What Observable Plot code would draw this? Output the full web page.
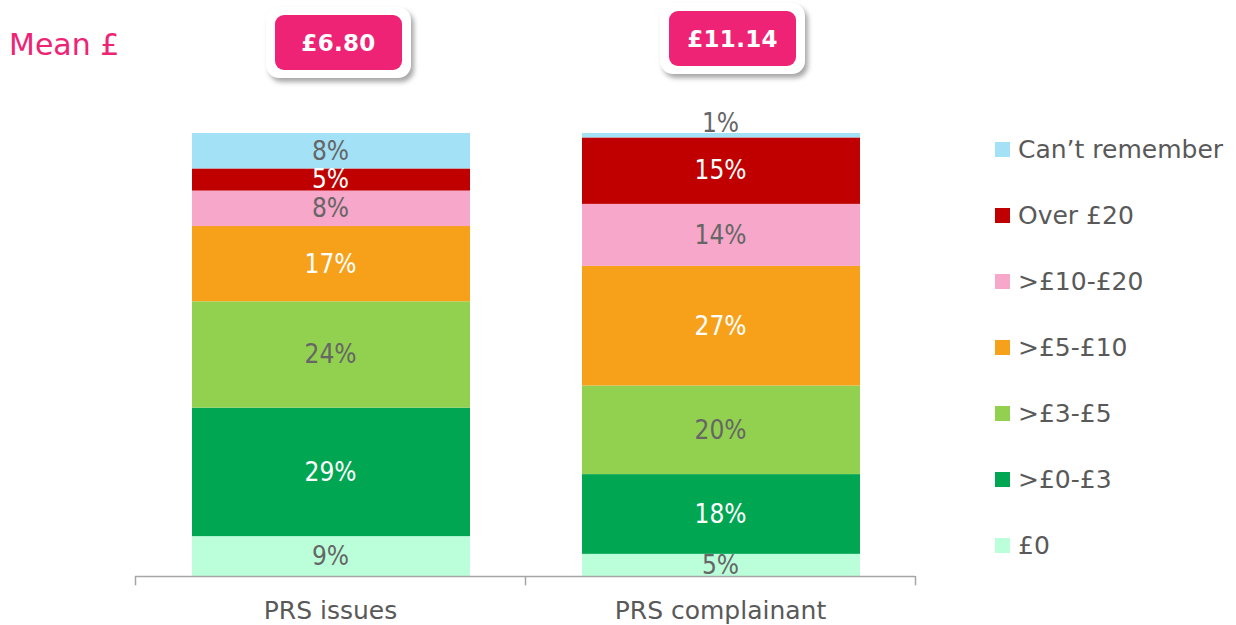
<!DOCTYPE html>
<html><head><meta charset="utf-8">
<script src="https://cdn.jsdelivr.net/npm/d3@7"></script>
<script src="https://cdn.jsdelivr.net/npm/@observablehq/plot@0.6"></script>
<style>
body{margin:0;background:#fff;font-family:"DejaVu Sans",sans-serif;}
#wrap{position:relative;width:1236px;height:625px;overflow:hidden;background:#fff}
#mean{position:absolute;left:9px;top:27px;font-size:30px;color:#EE2375;}
.box{position:absolute;width:145px;height:71px;background:#fff;border-radius:13px;box-shadow:3px 4px 5px rgba(0,0,0,0.35);}
.box .in{position:absolute;left:9px;top:8px;width:127px;height:55px;background:#EE2375;border-radius:9px;color:#fff;font-weight:bold;font-size:23px;display:flex;align-items:center;justify-content:center;letter-spacing:0.3px}
#legend{position:absolute;left:995px;top:116px;}
.li{height:66px;display:flex;align-items:center;font-size:25px;color:#595959;white-space:nowrap}
.sw{width:15px;height:15px;margin-right:8px;flex:none}
</style></head><body><div id="wrap"></div>
<script>
const categories = ["PRS issues", "PRS complainant"];
const bands = ["£0", ">£0-£3", ">£3-£5", ">£5-£10", ">£10-£20", "Over £20", "Can’t remember"];
const bandColors = ["#BBFFDA", "#00A651", "#92D050", "#F7A11B", "#F7A7C9", "#C00000", "#A2E1F6"];
const prsIssues = [9, 29, 24, 17, 8, 5, 8];
const prsComplainant = [5, 18, 20, 27, 14, 15, 1];
const means = ["£6.80", "£11.14"];
const whiteLabelBands = [">£0-£3", ">£5-£10", "Over £20"];

const series = [prsIssues, prsComplainant];
const rows = categories.flatMap((c, i) => bands.map((b, j) => ({cat: c, idx: i, band: b, value: series[i][j]})));

const font = "'DejaVu Sans Condensed','DejaVu Sans',sans-serif";
const labelText = (pred) => d => pred(d) ? d.value + "%" : "";
const isWhite = d => whiteLabelBands.includes(d.band);
const isSmall = d => d.value < 2;

const plot = Plot.plot({
  width: 1236, height: 625,
  marginTop: 133, marginBottom: 49, marginLeft: 135, marginRight: 321,
  x: {domain: [0, 2], axis: null},
  y: {domain: [0, 100], axis: null},
  color: {domain: bands, range: bandColors},
  style: {fontFamily: "'DejaVu Sans',sans-serif", overflow: "visible", background: "transparent"},
  marks: [
    Plot.rectY(rows, Plot.stackY({x1: "idx", x2: d => d.idx + 1, y: "value", fill: "band", order: bands, insetLeft: 57, insetRight: 55})),
    Plot.text(rows, Plot.stackY({x: d => d.idx + 0.5, y: "value", z: "band", order: bands, text: labelText(d => isWhite(d)), fill: "white", fontSize: 26, fontFamily: font})),
    Plot.text(rows, Plot.stackY({x: d => d.idx + 0.5, y: "value", z: "band", order: bands, text: labelText(d => !isWhite(d) && !isSmall(d)), fill: "#666666", fontSize: 26, fontFamily: font})),
    Plot.text(rows, Plot.stackY({x: d => d.idx + 0.5, y: "value", z: "band", order: bands, text: labelText(d => !isWhite(d) && isSmall(d)), fill: "#666666", fontSize: 26, fontFamily: font, dy: -12})),
    Plot.ruleY([0], {stroke: "#a6a6a6", strokeWidth: 1.5}),
    Plot.ruleX([0, 1, 2], {y1: 0, y2: -2.1, stroke: "#a6a6a6", strokeWidth: 1.5}),
    Plot.text(categories, {x: (d, i) => i + 0.5, y: 0, dy: 34, text: d => d, fontSize: 25, fill: "#595959"})
  ]
});

const wrap = document.getElementById("wrap");
wrap.appendChild(plot);

const mean = document.createElement("div");
mean.id = "mean"; mean.textContent = "Mean £";
wrap.appendChild(mean);

const xs = plot.scale("x");
const boxTops = [7, 3];
means.forEach((m, i) => {
  const cx = xs.apply(i + 0.5);
  const b = document.createElement("div");
  b.className = "box";
  b.style.left = (cx - 72 + 8 + i * 4) + "px";
  b.style.top = boxTops[i] + "px";
  const inner = document.createElement("div");
  inner.className = "in"; inner.textContent = m;
  b.appendChild(inner);
  wrap.appendChild(b);
});

const legend = document.createElement("div");
legend.id = "legend";
bands.slice().reverse().forEach(b => {
  const li = document.createElement("div"); li.className = "li";
  const sw = document.createElement("div"); sw.className = "sw";
  sw.style.background = bandColors[bands.indexOf(b)];
  const t = document.createElement("span"); t.textContent = b;
  li.appendChild(sw); li.appendChild(t);
  legend.appendChild(li);
});
wrap.appendChild(legend);
</script></body></html>
